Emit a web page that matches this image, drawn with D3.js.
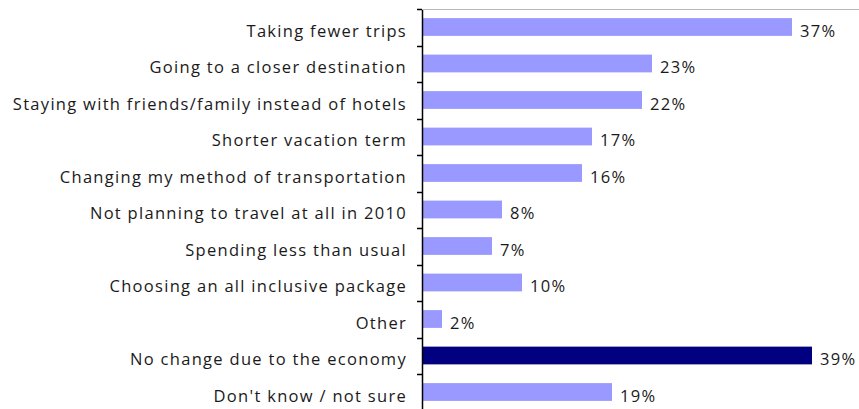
<!DOCTYPE html>
<html>
<head>
<meta charset="utf-8">
<script src="https://cdn.jsdelivr.net/npm/d3@7"></script>
<style>
  body { margin: 0; background: #fff; }
  text { font-family: "Open Sans", sans-serif; font-size: 16.5px; letter-spacing: 1.3px; }
</style>
</head>
<body>
<script>
const categories = [
    "Taking fewer trips",
    "Going to a closer destination",
    "Staying with friends/family instead of hotels",
    "Shorter vacation term",
    "Changing my method of transportation",
    "Not planning to travel at all in 2010",
    "Spending less than usual",
    "Choosing an all inclusive package",
    "Other",
    "No change due to the economy",
    "Don't know / not sure"
];
const values = [37, 23, 22, 17, 16, 8, 7, 10, 2, 39, 19];
const highlight = "No change due to the economy";

const w = 859;
const h = 409;
const axisX = 422;

const svg = d3.select("body")
    .append("svg")
    .attr("width", w)
    .attr("height", h);

const xScale = d3.scaleLinear()
    .domain([0, 43.5])
    .range([axisX, 857]);

// bands for the ticks, bars sit in the middle
const yBand = d3.scaleBand()
    .domain(categories)
    .range([9, 410.5]);

const yScale = d3.scaleBand()
    .domain(categories)
    .range([9, 410.5])
    .paddingInner(0.5)
    .paddingOuter(0.25);

// top border
svg.append("line")
    .attr("x1", axisX).attr("x2", w)
    .attr("y1", 9.5).attr("y2", 9.5)
    .attr("stroke", "#b8b8b8")
    .attr("stroke-width", 1);

// bars
svg.selectAll("rect.bar")
    .data(values)
    .enter()
    .append("rect")
    .attr("class", "bar")
    .attr("x", axisX)
    .attr("y", (d, i) => yScale(categories[i]))
    .attr("width", d => xScale(d) - axisX)
    .attr("height", yScale.bandwidth() - 0.5)
    .attr("fill", (d, i) => categories[i] === highlight ? "#000080" : "#9999ff");

// value labels
svg.selectAll("text.val")
    .data(values)
    .enter()
    .append("text")
    .attr("class", "val")
    .attr("x", d => xScale(d) + 8)
    .attr("y", (d, i) => yScale(categories[i]) + yScale.bandwidth() / 2)
    .attr("dy", "0.58em")
    .attr("fill", "#1a1a1a")
    .text(d => d + "%");

// category labels
svg.selectAll("text.cat")
    .data(categories)
    .enter()
    .append("text")
    .attr("class", "cat")
    .attr("x", 407)
    .attr("y", d => yScale(d) + yScale.bandwidth() / 2)
    .attr("dy", "0.58em")
    .attr("text-anchor", "end")
    .attr("fill", "#1a1a1a")
    .text(d => d);

// axis line and ticks
svg.append("line")
    .attr("x1", axisX + 0.5).attr("x2", axisX + 0.5)
    .attr("y1", 10).attr("y2", h)
    .attr("stroke", "#000")
    .attr("stroke-width", 1.5);

svg.selectAll("line.tick")
    .data(categories)
    .enter()
    .append("line")
    .attr("class", "tick")
    .attr("x1", 417).attr("x2", axisX)
    .attr("y1", d => Math.round(yBand(d)) + 0.5)
    .attr("y2", d => Math.round(yBand(d)) + 0.5)
    .attr("stroke", "#000")
    .attr("stroke-width", 1.5);
</script>
</body>
</html>
